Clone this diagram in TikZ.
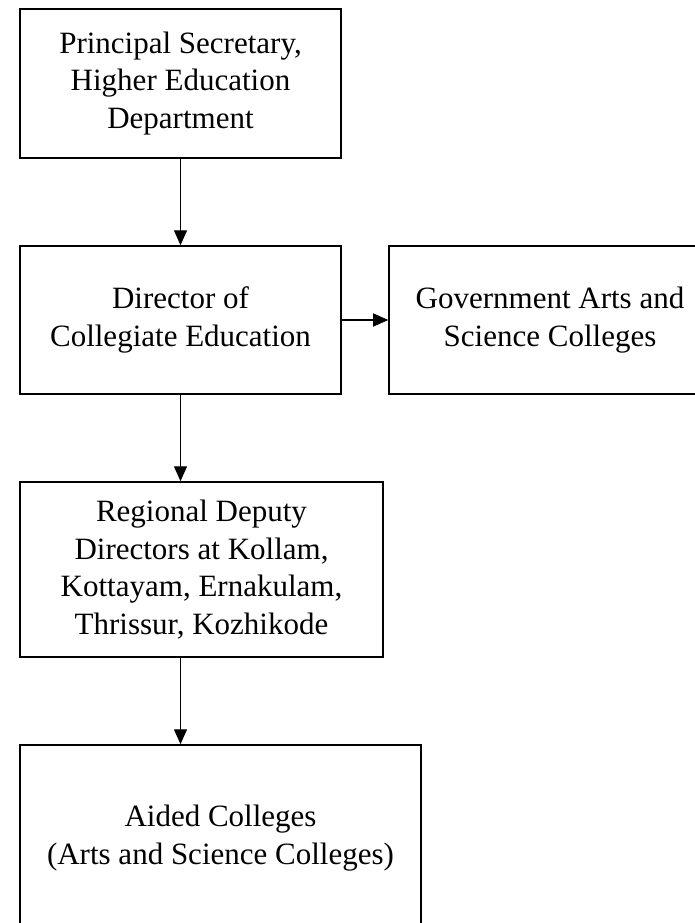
\documentclass[tikz,border=0pt]{standalone}
\usepackage{fontspec}
\setmainfont{Liberation Serif}
\usetikzlibrary{positioning,arrows.meta}

\begin{document}
\begin{tikzpicture}[x=0.4pt,y=-0.4pt,
    box/.style={draw,line width=0.6pt,align=center,inner sep=0pt,
        font=\fontsize{12.4}{15}\selectfont},
    arr/.style={line width=0.5pt,-{Triangle[length=6pt,width=5.2pt]}}]
                \useasboundingbox (0,0) rectangle (695,923);
                \clip (0,0) rectangle (695,923);
                \node[box,minimum width=128.4pt,minimum height=59.6pt] (sec) at (180.5,83.5)
                    {Principal Secretary,\\Higher Education\\Department};
                \node[box,minimum width=128.4pt,minimum height=59.2pt] (dir) at (180.5,320)
                    {Director of\\Collegiate Education};
                \node[box,minimum width=128.8pt,minimum height=59.2pt] (gov) at (550,320)
                    {Government Arts and\\Science Colleges};
                \node[box,minimum width=145.2pt,minimum height=70pt] (reg) at (201.5,569.5)
                    {Regional Deputy\\Directors at Kollam,\\Kottayam, Ernakulam,\\Thrissur, Kozhikode};
                \node[box,minimum width=160.4pt,minimum height=74.4pt] (aid) at (220.5,838)
                    {Aided Colleges\\(Arts and Science Colleges)};
                \draw[arr] (sec) -- (dir);
                \draw[arr] (dir) -- (gov);
                \draw[arr] (dir.south) -- (dir.south |- reg.north);
                \draw[arr] (reg.south -| dir.south) -- (dir.south |- aid.north);
            \end{tikzpicture}
\end{document}
